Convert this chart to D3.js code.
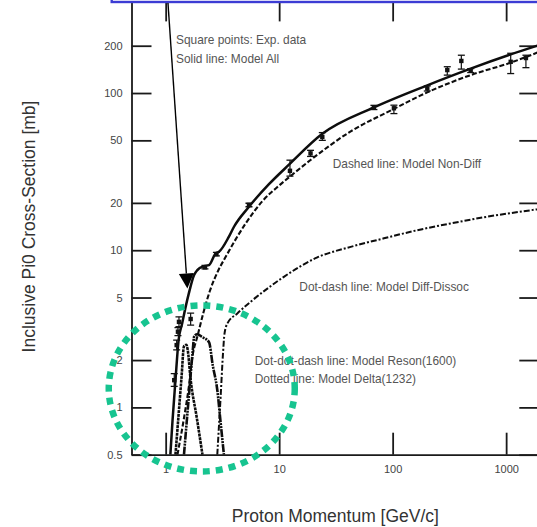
<!DOCTYPE html>
<html>
<head>
<meta charset="utf-8">
<script src="https://cdn.jsdelivr.net/npm/d3@7"></script>
<style>
  html, body { margin: 0; padding: 0; background: #fff; }
  svg { display: block; font-family: "Liberation Sans", Arial, Helvetica, sans-serif; }
</style>
</head>
<body>
<svg id="chart" width="537" height="527"></svg>
<script>
// ---- data: momentum p [GeV/c], cross-section [mb] ----
const xTickValues = [1, 10, 100, 1000];
const yTickValues = [0.5, 1, 2, 5, 10, 20, 50, 100, 200];

// Model curves
const modelAll = [[1.10,0.5],[1.15,0.83],[1.22,1.49],[1.30,2.68],[1.40,3.44],[1.50,4.36],[1.60,5.31],
  [1.78,6.95],[1.90,7.47],[2.17,7.92],[2.41,8.04],[2.76,9.55],[2.95,9.77],[3.61,12.2],[4.0,14.1],
  [5.42,18.9],[8.13,26.3],[12.2,35],[24,55],[68.4,81],[202,112],[487,143],[1097,176],[2000,203]];
const modelNonDiff = [[1.27,0.5],[1.44,0.83],[1.60,1.35],[1.73,2.15],[1.90,2.81],[2.15,4.0],[2.45,5.5],
  [2.9,7.4],[3.38,9.08],[5.07,14.8],[7.11,20.5],[10,25.8],[12.5,29.5],[18.9,37.5],[42.7,57],[100,78.5],
  [202,101],[487,130],[1097,156],[2000,184]];
const modelDiffDissoc = [[2.85,0.5],[3.05,1.17],[3.2,2.2],[3.3,2.95],[3.5,3.42],[4.28,3.96],[5.61,4.7],
  [8.4,5.9],[11,6.77],[21.7,9.0],[42.7,10.5],[83.8,11.9],[165,13.4],[324,14.8],[637,16.2],[2000,18.3]];
const modelReson1600 = [[1.45,0.5],[1.60,1.17],[1.72,2.16],[1.79,2.85],[1.9,2.92],[2.1,2.8],[2.41,2.6],
  [2.6,1.85],[2.85,1.29],[3.05,0.8],[3.26,0.5]];
const modelDelta1232 = [[1.22,0.5],[1.30,0.9],[1.38,1.56],[1.45,2.45],[1.52,2.5],[1.56,2.35],[1.66,1.5],
  [1.88,0.86],[2.11,0.5]];

// Experimental data: [p, value, lower, upper]
const expData = [
  [1.19,1.49,1.36,1.64],[1.25,2.49,2.32,2.68],[1.283,3.03,2.86,3.22],[1.31,3.50,3.26,3.77],
  [1.66,3.65,3.34,3.98],[2.22,7.78,7.6,8.0],[2.80,9.44,9.2,9.7],[5.42,19.4,18.9,19.9],
  [12.45,32.0,29.6,37.4],[18.9,41.3,39.5,43.2],[24.0,52.6,50,56],[68.4,81,78.5,83.5],
  [102.6,80,74,83.7],[202,107,103,111],[303,140,130,147],[403,160,142,174],[487,139,135,143],
  [1097,158,133,179],[1494,167,145,174]
];

const noteTexts = [
  "Square points: Exp. data",
  "Solid line: Model All",
  "Dashed line: Model Non-Diff",
  "Dot-dash line: Model Diff-Dissoc",
  "Dot-dot-dash line: Model Reson(1600)",
  "Dotted line: Model Delta(1232)"
];
const xTitle = "Proton Momentum [GeV/c]";
const yTitle = "Inclusive Pi0 Cross-Section [mb]";

// ---- layout ----
const svg = d3.select("#chart");
const plot = { left: 131.5, right: 540.3, top: -1.6, bottom: 454.7 };
const x = d3.scaleLog().domain([0.5, 2000]).range([plot.left, plot.right]);
const y = d3.scaleLog().domain([0.5, 400]).range([plot.bottom, plot.top]);

const ink = "#1a1a1a";

svg.append("defs").append("clipPath").attr("id", "plotClip")
  .append("rect")
  .attr("x", plot.left).attr("y", plot.top)
  .attr("width", plot.right - plot.left).attr("height", plot.bottom - plot.top);

// ---- axes (ticks point inward on all four sides) ----
function styleAxis(g) {
  g.selectAll("path.domain").attr("stroke", ink).attr("stroke-width", 1.8);
  g.selectAll(".tick line").attr("stroke", ink).attr("stroke-width", 1.8);
  g.selectAll(".tick text").attr("fill", "#444").attr("font-size", 11)
    .attr("font-family", "'Liberation Sans', Arial, sans-serif");
}

svg.append("g").attr("transform", `translate(0,${plot.bottom})`)
  .call(d3.axisBottom(x).tickValues(xTickValues).tickSize(-22).tickSizeOuter(0)
    .tickPadding(11).tickFormat(d => String(d)))
  .call(styleAxis);

svg.append("g").attr("transform", `translate(0,${plot.top})`)
  .call(d3.axisTop(x).tickValues(xTickValues).tickSize(-23).tickSizeOuter(0).tickFormat(""))
  .call(styleAxis);

svg.append("g").attr("transform", `translate(${plot.left},0)`)
  .call(d3.axisLeft(y).tickValues(yTickValues).tickSize(-20).tickSizeOuter(0)
    .tickPadding(9).tickFormat(d => String(d)))
  .call(styleAxis);

svg.append("g").attr("transform", `translate(${plot.right},0)`)
  .call(d3.axisRight(y).tickValues(yTickValues).tickSize(-21).tickSizeOuter(0).tickFormat(""))
  .call(styleAxis);

// ---- model curves ----
const line = d3.line().x(d => x(d[0])).y(d => y(d[1])).curve(d3.curveMonotoneX);
const curves = svg.append("g").attr("clip-path", "url(#plotClip)").attr("fill", "none")
  .attr("stroke", "#0d0d0d").attr("stroke-linejoin", "round");

curves.append("path").datum(modelDiffDissoc).attr("d", line)
  .attr("stroke-width", 2).attr("stroke-dasharray", "6 2 2 2");
curves.append("path").datum(modelDelta1232).attr("d", line)
  .attr("stroke-width", 2.6).attr("stroke-dasharray", "3 0.8");
curves.append("path").datum(modelReson1600).attr("d", line)
  .attr("stroke-width", 2.6).attr("stroke-dasharray", "8 1 2 1 2 1");
curves.append("path").datum(modelNonDiff).attr("d", line)
  .attr("stroke-width", 2.1).attr("stroke-dasharray", "5 2.2");
curves.append("path").datum(modelAll).attr("d", line)
  .attr("stroke-width", 2.5);

// ---- experimental points with error bars ----
const pts = svg.append("g").attr("clip-path", "url(#plotClip)");
const bars = pts.selectAll("g.pt").data(expData).join("g").attr("class", "pt");
bars.append("line")
  .attr("x1", d => x(d[0])).attr("x2", d => x(d[0]))
  .attr("y1", d => y(d[2])).attr("y2", d => y(d[3]))
  .attr("stroke", "#111").attr("stroke-width", 1.2);
[2, 3].forEach(k => {
  bars.append("line")
    .attr("x1", d => x(d[0]) - 3.5).attr("x2", d => x(d[0]) + 3.5)
    .attr("y1", d => y(d[k])).attr("y2", d => y(d[k]))
    .attr("stroke", "#111").attr("stroke-width", 1.3);
});
bars.append("rect")
  .attr("x", d => x(d[0]) - 2.2).attr("y", d => y(d[1]) - 2.2)
  .attr("width", 4.4).attr("height", 4.4).attr("fill", "#111");

// ---- legend notes ----
const noteLayout = [
  [176, 43.5], [176, 63.3], [332.7, 167.7], [299.3, 290.7], [254.7, 365.3], [254.7, 382.7]
];
svg.append("g").selectAll("text").data(noteTexts).join("text")
  .attr("x", (d, i) => noteLayout[i][0]).attr("y", (d, i) => noteLayout[i][1])
  .attr("font-size", 11.9).attr("fill", "#555").text(d => d);

// ---- axis titles ----
svg.append("text").attr("x", 335.4).attr("y", 522).attr("text-anchor", "middle")
  .attr("font-size", 17.5).attr("fill", "#333").text(xTitle);
svg.append("text").attr("transform", "translate(35,226.5) rotate(-90)").attr("text-anchor", "middle")
  .attr("font-size", 17.5).attr("fill", "#333").text(yTitle);

// ---- callout box and arrow ----
svg.append("rect").attr("x", 111.7).attr("y", -40).attr("width", 470).attr("height", 42)
  .attr("fill", "#fff").attr("stroke", "#3c3cd4").attr("stroke-width", 2.4);

const arrowFrom = [x(1.048), 3];
const arrowTo = [x(1.553), y(5.71)];
const ang = Math.atan2(arrowTo[1] - arrowFrom[1], arrowTo[0] - arrowFrom[0]);
const headLen = 15, headHalf = 7.5;
const bx = arrowTo[0] - headLen * Math.cos(ang), by = arrowTo[1] - headLen * Math.sin(ang);
svg.append("line").attr("x1", arrowFrom[0]).attr("y1", arrowFrom[1]).attr("x2", bx).attr("y2", by)
  .attr("stroke", "#000").attr("stroke-width", 1.4);
svg.append("path")
  .attr("d", d3.line()([
    arrowTo,
    [bx + headHalf * Math.sin(ang), by - headHalf * Math.cos(ang)],
    [bx - headHalf * Math.sin(ang), by + headHalf * Math.cos(ang)]
  ]) + "Z")
  .attr("fill", "#000");

// ---- highlight ring around the threshold region ----
svg.append("ellipse")
  .attr("cx", x(2.08)).attr("cy", y(1.32)).attr("rx", 93).attr("ry", 83)
  .attr("fill", "none").attr("stroke", "#17c490").attr("stroke-width", 6.5)
  .attr("stroke-dasharray", "7 6");
</script>
</body>
</html>
